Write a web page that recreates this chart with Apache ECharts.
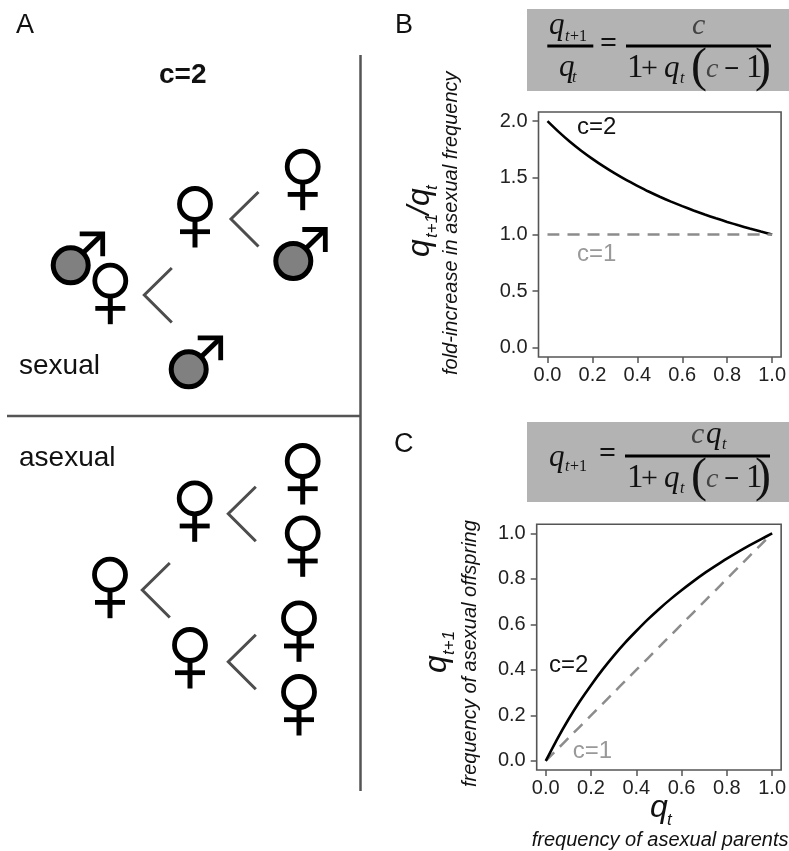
<!DOCTYPE html>
<html>
<head>
<meta charset="utf-8">
<style>html,body{margin:0;padding:0;background:#fff}#c{width:789px;height:851px}</style>
<script src="https://cdn.jsdelivr.net/npm/echarts@6/dist/echarts.min.js"></script>
</head>
<body>
<div id="c"></div>
<script>
// ---- data ----
const qt = [0,0.05,0.1,0.15,0.2,0.25,0.3,0.35,0.4,0.45,0.5,0.55,0.6,0.65,0.7,0.75,0.8,0.85,0.9,0.95,1];
const ratioC2 = [2,1.905,1.818,1.739,1.667,1.6,1.538,1.481,1.429,1.379,1.333,1.29,1.25,1.212,1.176,1.143,1.111,1.081,1.053,1.026,1];
const ratioC1 = [1,1,1,1,1,1,1,1,1,1,1,1,1,1,1,1,1,1,1,1,1];
const nextC2 = [0,0.095,0.182,0.261,0.333,0.4,0.462,0.519,0.571,0.621,0.667,0.71,0.75,0.788,0.824,0.857,0.889,0.919,0.947,0.974,1];
const nextC1 = [0,0.05,0.1,0.15,0.2,0.25,0.3,0.35,0.4,0.45,0.5,0.55,0.6,0.65,0.7,0.75,0.8,0.85,0.9,0.95,1];
const ticksUnit = [0,0.2,0.4,0.6,0.8,1];
const ticksRatio = [0,0.5,1,1.5,2];

// ---- panel A layout ----
const sexualFemales = [[302.7,166.7],[195,204],[110.3,280.7]];
const sexualMales = [[70.7,265.3],[293.3,261],[188.7,369.3]];
const asexualFemales = [[302.7,461],[302.7,533.3],[194.7,498.3],[110,574.7],[190,645],[299,618.3],[299,692]];
const chevrons = [[231,219],[144.3,295],[228.3,513.7],[142.3,590],[228.3,661.7]];

const SANS = '"Liberation Sans", Arial, sans-serif';
const SERIF = '"Liberation Serif", "Times New Roman", serif';
const g = [];

function txt(x, base, str, size, opt) {
  opt = opt || {};
  const fam = opt.family || SANS;
  g.push({
    type: 'text', x: x, y: base, rotation: opt.rot ? Math.PI / 2 : 0, z: 5,
    style: {
      text: str, x: 0, y: -0.30 * size,
      font: (opt.italic ? 'italic ' : '') + (opt.bold ? 'bold ' : '') + size + 'px ' + fam,
      fill: opt.color || '#111', align: opt.align || 'left', verticalAlign: 'middle'
    }
  });
}
function seg(x1, y1, x2, y2, w, color) {
  g.push({ type: 'line', z: 4, shape: { x1, y1, x2, y2 }, style: { stroke: color || '#000', lineWidth: w } });
}
function female(c) {
  const x = c[0], y = c[1];
  g.push({ type: 'circle', z: 4, shape: { cx: x, cy: y, r: 15.5 }, style: { fill: '#fff', stroke: '#000', lineWidth: 4.8 } });
  seg(x, y + 17, x, y + 43.5, 5);
  seg(x - 15, y + 27.7, x + 15, y + 27.7, 4.8);
}
function male(c) {
  const x = c[0], y = c[1];
  seg(x + 12, y - 12, x + 31, y - 30.5, 5);
  g.push({ type: 'polyline', z: 4, shape: { points: [[x + 9, y - 31.5], [x + 32, y - 31.5], [x + 32, y - 9]] },
    style: { fill: 'none', stroke: '#000', lineWidth: 4.8, lineJoin: 'miter' } });
  g.push({ type: 'circle', z: 4, shape: { cx: x, cy: y, r: 17.5 }, style: { fill: '#808080', stroke: '#000', lineWidth: 5 } });
}
function chevron(c) {
  g.push({ type: 'polyline', z: 4, shape: { points: [[c[0] + 27.5, c[1] - 27], [c[0], c[1]], [c[0] + 27.5, c[1] + 27.5]] },
    style: { fill: 'none', stroke: '#4d4d4d', lineWidth: 3 } });
}

// dividers
seg(360.5, 55, 360.5, 791, 2.5, '#555');
seg(7, 416, 360, 416, 2.5, '#555');

sexualMales.forEach(male);
sexualFemales.forEach(female);
asexualFemales.forEach(female);
chevrons.forEach(chevron);

// panel letters and captions
txt(16, 34, 'A', 27); txt(395, 34, 'B', 27); txt(394, 453, 'C', 27);
txt(159, 84, 'c=2', 28, { bold: true });
txt(19, 375, 'sexual', 28);
txt(19, 467, 'asexual', 28);

// formula boxes
g.push({ type: 'rect', z: 1, shape: { x: 527, y: 9, width: 262, height: 82 }, style: { fill: '#b3b3b3' } });
g.push({ type: 'rect', z: 1, shape: { x: 527, y: 422, width: 262, height: 80 }, style: { fill: '#b3b3b3' } });

const SI = { family: SERIF, italic: true, color: '#111' };
const SR = { family: SERIF, color: '#111' };
function denominator(dy) {
  txt(627, 78 + dy, '1', 33, SR);
  txt(641, 78 + dy, '+', 30, SR);
  txt(664, 78 + dy, 'q', 31, SI);
  txt(680, 84 + dy, 't', 16, SI);
  txt(691, 83 + dy, '(', 48, SR);
  txt(706, 78 + dy, 'c', 28, Object.assign({}, SI, { color: '#444' }));
  txt(724, 78 + dy, '\u2212', 27, Object.assign({}, SR, { bold: true }));
  txt(746, 78 + dy, '1', 33, SR);
  txt(755, 83 + dy, ')', 48, SR);
}
// B formula
txt(549, 35, 'q', 31, SI); txt(565, 42, 't', 16, SI); txt(570, 42, '+1', 16, SR);
seg(547.3, 46, 593.3, 46, 3, '#000');
txt(559, 77, 'q', 31, SI); txt(572, 83, 't', 16, SI);
txt(600, 53.5, '=', 30, Object.assign({}, SR, { bold: true }));
seg(626, 46, 771, 46, 3.2, '#000');
txt(692, 35, 'c', 30, Object.assign({}, SI, { color: '#444' }));
denominator(0);
// C formula
txt(549, 466.7, 'q', 31, SI); txt(565, 472, 't', 16, SI); txt(570, 472, '+1', 16, SR);
txt(599, 463.5, '=', 30, Object.assign({}, SR, { bold: true }));
seg(625, 456, 770, 456, 3.2, '#000');
txt(691, 444, 'c', 30, Object.assign({}, SI, { color: '#444' }));
txt(706, 444, 'q', 31, SI); txt(722, 450, 't', 16, SI);
denominator(410);

// axis titles B
txt(430, 257, 'q', 32, { rot: true, italic: true });
txt(437, 238, 't+1', 17, { rot: true, italic: true });
txt(430, 215, '/q', 32, { rot: true, italic: true });
txt(437, 190, 't', 17, { rot: true, italic: true });
txt(457, 375, 'fold-increase in asexual frequency', 20, { rot: true, italic: true });
// axis titles C
txt(447, 673, 'q', 32, { rot: true, italic: true });
txt(454, 655, 't+1', 17, { rot: true, italic: true });
txt(476, 787, 'frequency of asexual offspring', 20, { rot: true, italic: true });
txt(650, 818, 'q', 32, { italic: true });
txt(667, 825, 't', 17, { italic: true });
txt(531.7, 846.7, 'frequency of asexual parents', 20, { italic: true });

// in-plot labels
txt(577, 135, 'c=2', 24); txt(577, 261.7, 'c=1', 24, { color: '#999' });
txt(549, 673, 'c=2', 24); txt(572.7, 759, 'c=1', 24, { color: '#999' });

const zip = (a, b) => a.map((v, i) => [v, b[i]]);
const tickFmt = v => v.toFixed(1);
function ax(i, min, max, ticks, margin) {
  return { type: 'value', gridIndex: i, min: min, max: max,
    axisLine: { show: false, onZero: false }, splitLine: { show: false },
    axisTick: { show: true, length: 6, customValues: ticks, lineStyle: { color: '#555', width: 1.5 } },
    axisLabel: { customValues: ticks, formatter: tickFmt, fontFamily: 'Liberation Sans', fontSize: 20, color: '#222', margin: margin } };
}
function ln(i, data, color, w, dash) {
  return { type: 'line', xAxisIndex: i, yAxisIndex: i, data: data, showSymbol: false, symbol: 'none', smooth: 0.2,
    silent: true, lineStyle: { color: color, width: w, type: dash || 'solid' } };
}
const frame = { show: true, borderColor: '#555', borderWidth: 1.6, backgroundColor: 'transparent' };
const chart = echarts.init(document.getElementById('c'), null, { renderer: 'canvas' });
chart.setOption({
  animation: false,
  backgroundColor: '#fff',
  grid: [
    Object.assign({ left: 538.5, top: 112, width: 245.5, height: 245 }, frame),
    Object.assign({ left: 536.7, top: 524.3, width: 245.6, height: 245.7 }, frame)
  ],
  xAxis: [ax(0, -0.04, 1.04, ticksUnit, 8), ax(1, -0.04, 1.04, ticksUnit, 8)],
  yAxis: [ax(0, -0.08, 2.08, ticksRatio, 11), ax(1, -0.04, 1.04, ticksUnit, 11)],
  series: [
    ln(0, zip(qt, ratioC2), '#000', 2.6),
    ln(0, zip(qt, ratioC1), '#8c8c8c', 2.5, [12, 8]),
    ln(1, zip(qt, nextC1), '#8c8c8c', 2.5, [12, 8]),
    ln(1, zip(qt, nextC2), '#000', 2.6)
  ],
  graphic: { elements: g }
});
</script>
</body>
</html>
